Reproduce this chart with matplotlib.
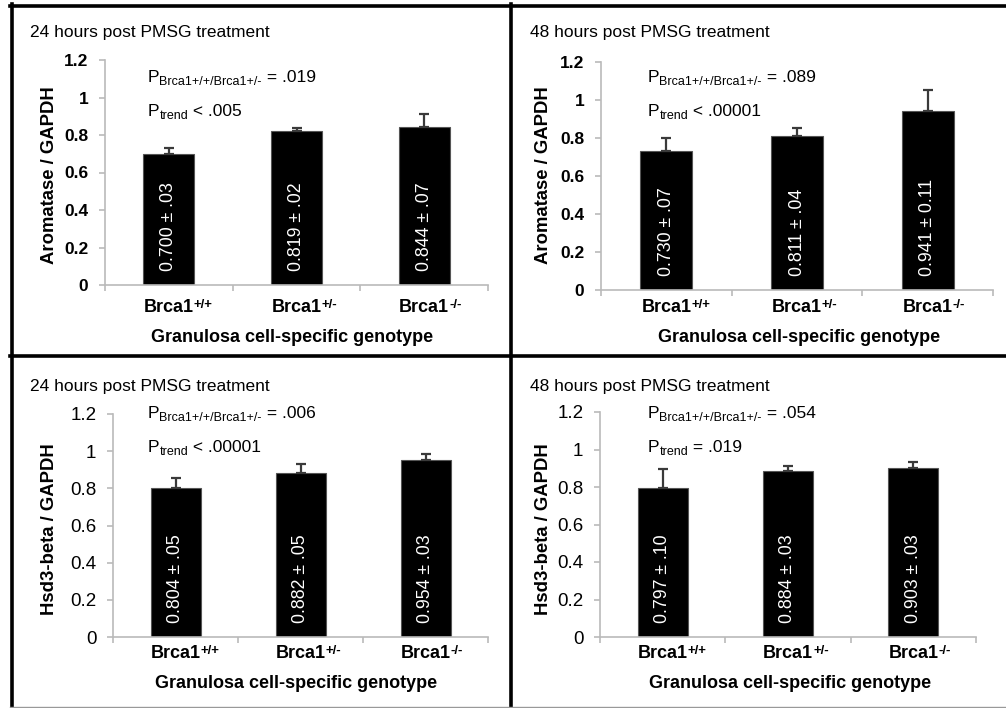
import numpy as np
import matplotlib
matplotlib.use('Agg')
import matplotlib.pyplot as plt
import matplotlib.transforms as mtransforms
from matplotlib.lines import Line2D

plt.rcParams['font.family'] = ['Liberation Sans', 'DejaVu Sans']

# data
genotypes = ['Brca1', 'Brca1', 'Brca1']
genotype_sup = ['+/+', '+/-', '-/-']
arom_24 = [0.700, 0.819, 0.844]
arom_24_err = [0.03, 0.02, 0.07]
arom_24_lbl = ['0.700 ± .03', '0.819 ± .02', '0.844 ± .07']
arom_48 = [0.730, 0.811, 0.941]
arom_48_err = [0.07, 0.04, 0.11]
arom_48_lbl = ['0.730 ± .07', '0.811 ± .04', '0.941 ± 0.11']
hsd_24 = [0.804, 0.882, 0.954]
hsd_24_err = [0.05, 0.05, 0.03]
hsd_24_lbl = ['0.804 ± .05', '0.882 ± .05', '0.954 ± .03']
hsd_48 = [0.797, 0.884, 0.903]
hsd_48_err = [0.10, 0.03, 0.03]
hsd_48_lbl = ['0.797 ± .10', '0.884 ± .03', '0.903 ± .03']
yticks = [0, 0.2, 0.4, 0.6, 0.8, 1.0, 1.2]
ytick_labels = ['0', '0.2', '0.4', '0.6', '0.8', '1', '1.2']

W, H = 1006, 708
fig = plt.figure(figsize=(W / 100, H / 100), dpi=100)

def fx(px):
    return px / W

def fy(py):
    return 1 - py / H

panels = [
    dict(vals=arom_24, err=arom_24_err, lbl=arom_24_lbl, ylabel='Aromatase / GAPDH',
         title='24 hours post PMSG treatment', p1='= .019', p2='< .005',
         box=(105, 488, 60, 285), ox=0, oy=0, ylx=50, bold=True),
    dict(vals=arom_48, err=arom_48_err, lbl=arom_48_lbl, ylabel='Aromatase / GAPDH',
         title='48 hours post PMSG treatment', p1='= .089', p2='< .00001',
         box=(601, 993, 62, 290), ox=500, oy=0, ylx=543, bold=True),
    dict(vals=hsd_24, err=hsd_24_err, lbl=hsd_24_lbl, ylabel='Hsd3-beta / GAPDH',
         title='24 hours post PMSG treatment', p1='= .006', p2='< .00001',
         box=(113, 488, 414, 637), ox=0, oy=354, ylx=50, bold=False),
    dict(vals=hsd_48, err=hsd_48_err, lbl=hsd_48_lbl, ylabel='Hsd3-beta / GAPDH',
         title='48 hours post PMSG treatment', p1='= .054', p2='= .019',
         box=(600, 976, 412, 637), ox=500, oy=354, ylx=543, bold=False),
]

axis_gray = '#bababa'
x = np.arange(len(genotypes))


def sub_text(xp, yp, main, sub, rest, size=12.5, subsize=9):
    # "P" + subscript + rest, chained so widths come from the renderer
    t = fig.text(fx(xp), fy(yp), main, fontsize=size, ha='left', va='baseline')
    s = plt.annotate(sub, xy=(1, 0), xycoords=t, fontsize=subsize, ha='left', va='baseline',
                     annotation_clip=False)
    plt.annotate(rest, xy=(1, 0), xycoords=(s, t), fontsize=size, ha='left', va='bottom',
                 annotation_clip=False)


for p in panels:
    l, r, t, b = p['box']
    ax = fig.add_axes([fx(l), fy(b), fx(r - l), (b - t) / H])
    ax.bar(x, p['vals'], width=0.4, color='black', edgecolor='#555555', linewidth=0.8, zorder=2)
    ax.errorbar(x, p['vals'], yerr=[np.zeros(3), p['err']], fmt='none', ecolor='#3a3a3a',
                elinewidth=1.6, capsize=3.5, capthick=1.6, zorder=3)
    for xi, s in zip(x, p['lbl']):
        ax.text(xi, 0.075, s, rotation=90, ha='center', va='bottom', color='white',
                fontsize=12.8, zorder=4)
    ax.set_xlim(-0.5, 2.5)
    ax.set_ylim(0, 1.2)
    for s in ['top', 'right']:
        ax.spines[s].set_visible(False)
    for s in ['left', 'bottom']:
        ax.spines[s].set_color(axis_gray)
        ax.spines[s].set_linewidth(1.2)
    ax.set_yticks(yticks)
    if p['bold']:
        ax.set_yticklabels(ytick_labels, fontsize=12.5, fontweight='bold')
    else:
        ax.set_yticklabels(ytick_labels, fontsize=13.5)
    ax.tick_params(axis='y', direction='out', length=4, color=axis_gray, width=1.2, pad=8)
    ax.set_xticks(x)
    ax.set_xticklabels([])
    ax.tick_params(axis='x', which='major', length=0)
    ax.set_xticks([-0.5, 0.5, 1.5, 2.5], minor=True)
    ax.tick_params(axis='x', which='minor', direction='out', length=4, color=axis_gray, width=1.2)

    ox, oy = p['ox'], p['oy']
    # genotype labels with superscripts
    base_y = 311.5 if oy == 0 else 657.5
    trans = mtransforms.blended_transform_factory(ax.transData, fig.transFigure)
    for xi, g, sp in zip(x, genotypes, genotype_sup):
        gt = ax.text(xi, fy(base_y), g, transform=trans, fontsize=13, fontweight='bold',
                     ha='center', va='baseline', clip_on=False)
        ax.annotate(sp, xy=(1, 0.44), xycoords=gt, fontsize=9.5, fontweight='bold',
                    ha='left', va='baseline', annotation_clip=False)

    fig.text(fx(ox + 30), fy(oy + 32), p['title'], fontsize=12.5, ha='left', va='center')
    fig.text(fx(p['ylx']), fy(oy + 175), p['ylabel'], fontsize=13.3, fontweight='bold',
             rotation=90, ha='center', va='center')
    xc = (l + r) / 2 + (-4 if ox == 0 else 2)
    fig.text(fx(xc), fy(oy + 337 if oy == 0 else oy + 329), 'Granulosa cell-specific genotype',
             fontsize=13, fontweight='bold', ha='center', va='center')
    ptop = 82 if oy == 0 else 64
    sub_text(ox + 148, oy + ptop, 'P', 'Brca1+/+/Brca1+/-', ' ' + p['p1'])
    sub_text(ox + 148, oy + ptop + 34, 'P', 'trend', ' ' + p['p2'])

# panel frames
frame = [((10, W), (5.5, 5.5)), ((11.5, 11.5), (4, H)), ((10, W), (356.5, 356.5)),
         ((511.5, 511.5), (4, H))]
for xs, ys in frame:
    fig.add_artist(Line2D([fx(v) for v in xs], [fy(v) for v in ys], color='black', linewidth=2.6))
fig.add_artist(Line2D([fx(10), fx(W)], [fy(706.5), fy(706.5)], color='#999999', linewidth=1))

fig.savefig('out.png', dpi=100)
